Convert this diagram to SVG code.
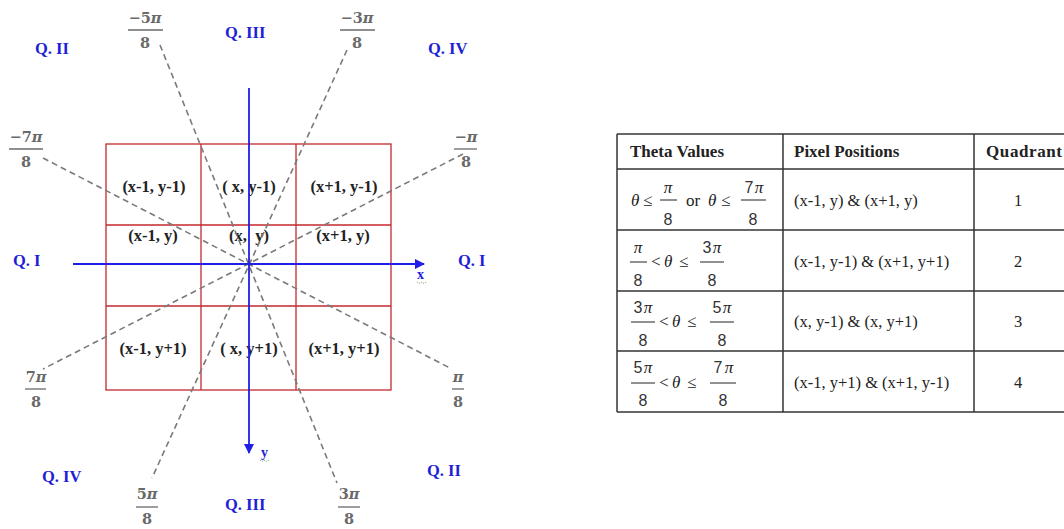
<svg xmlns="http://www.w3.org/2000/svg" width="1064" height="529" viewBox="0 0 1064 529">
<defs>
<style>
.grid{fill:none;stroke:#c3282e;stroke-width:1.3}
.dash{stroke:#7a7a7a;stroke-width:1.6;stroke-dasharray:6 4;fill:none}
.axis{stroke:#1f1fe6;stroke-width:1.8;fill:none}
.q{font-family:"Liberation Serif",serif;font-weight:bold;font-size:16.5px;fill:#1f1fd6}
.cell{font-family:"Liberation Serif",serif;font-weight:bold;font-size:16.5px;fill:#222;text-anchor:middle}
.fr{font-family:"DejaVu Serif",serif;font-weight:bold;font-size:14.5px;fill:#6a6a6a;text-anchor:middle}
.pi{font-style:italic}
.bar{stroke:#6a6a6a;stroke-width:1.3}
.tl{stroke:#333;stroke-width:1.5;fill:none}
.th{font-family:"Liberation Serif",serif;font-weight:bold;font-size:17px;fill:#222}
.td{font-family:"Liberation Serif",serif;font-size:16.5px;fill:#222}
.m{font-family:"Liberation Serif",serif;font-size:17px;fill:#222}
.mi{font-family:"Liberation Serif",serif;font-style:italic;font-size:17px;fill:#222}
.md{font-family:"Liberation Sans",sans-serif;font-size:16px;fill:#333;text-anchor:middle}
.mb{stroke:#222;stroke-width:1}
.lab{font-family:"Liberation Serif",serif;font-weight:bold;font-size:14px;fill:#1f1fd6}
.sq{stroke:#7aa060;stroke-width:0.8;fill:none;stroke-dasharray:1.5 1}
</style>
<marker id="ah" markerWidth="10" markerHeight="10" refX="9" refY="5" orient="auto" markerUnits="userSpaceOnUse">
<path d="M0,0 L10,5 L0,10 Z" fill="#1f1fe6"/>
</marker>
</defs>
<rect width="1064" height="529" fill="#fff"/>

<g id="grid">
<rect class="grid" x="106" y="144" width="285" height="246"/>
<line class="grid" x1="201" y1="144" x2="201" y2="390"/>
<line class="grid" x1="296" y1="144" x2="296" y2="390"/>
<line class="grid" x1="106" y1="225" x2="391" y2="225"/>
<line class="grid" x1="106" y1="306" x2="391" y2="306"/>
</g>

<g id="cells">
<text class="cell" x="154" y="192">(x-1, y-1)</text>
<text class="cell" x="249" y="192">( x, y-1)</text>
<text class="cell" x="344" y="192">(x+1, y-1)</text>
<text class="cell" x="153" y="241">(x-1, y)</text>
<text class="cell" x="249" y="241" xml:space="preserve">(x,  y)</text>
<text class="cell" x="343" y="241">(x+1, y)</text>
<text class="cell" x="153" y="354">(x-1, y+1)</text>
<text class="cell" x="249" y="354">( x, y+1)</text>
<text class="cell" x="344" y="354">(x+1, y+1)</text>
</g>

<g id="connectors">
<line class="dash" x1="160" y1="45" x2="337" y2="483"/>
<line class="dash" x1="347" y1="50" x2="152" y2="478"/>
<line class="dash" x1="43" y1="158" x2="450" y2="368"/>
<line class="dash" x1="463" y1="154" x2="43" y2="369"/>
<line class="axis" x1="73" y1="264" x2="424" y2="264" marker-end="url(#ah)"/>
<line class="axis" x1="249" y1="88" x2="249" y2="453" marker-end="url(#ah)"/>
</g>

<g id="axis-labels">
<text class="lab" x="417" y="279">x</text>
<path class="sq" d="M417,282 l2,1.5 l2,-1.5 l2,1.5 l2,-1.5 l2,1.5"/>
<text class="lab" x="261" y="457">y</text>
<path class="sq" d="M260,460 l2,1.5 l2,-1.5 l2,1.5 l2,-1.5 l2,1.5"/>
</g>

<g id="angles">
<text class="fr" x="145" y="23">−5<tspan class="pi">π</tspan></text><line class="bar" x1="128" y1="30" x2="163" y2="30"/><text class="fr" x="145" y="48">8</text>
<text class="fr" x="357" y="23">−3<tspan class="pi">π</tspan></text><line class="bar" x1="340" y1="30" x2="375" y2="30"/><text class="fr" x="357" y="48">8</text>
<text class="fr" x="26" y="142">−7<tspan class="pi">π</tspan></text><line class="bar" x1="9" y1="149" x2="43" y2="149"/><text class="fr" x="26" y="167">8</text>
<text class="fr" x="466" y="142">−<tspan class="pi">π</tspan></text><line class="bar" x1="454" y1="149" x2="477" y2="149"/><text class="fr" x="466" y="167">8</text>
<text class="fr" x="36" y="382">7<tspan class="pi">π</tspan></text><line class="bar" x1="25" y1="389" x2="46" y2="389"/><text class="fr" x="36" y="407">8</text>
<text class="fr" x="458" y="382"><tspan class="pi">π</tspan></text><line class="bar" x1="452" y1="389" x2="464" y2="389"/><text class="fr" x="458" y="407">8</text>
<text class="fr" x="147" y="499">5<tspan class="pi">π</tspan></text><line class="bar" x1="136" y1="507" x2="158" y2="507"/><text class="fr" x="147" y="524">8</text>
<text class="fr" x="349" y="499">3<tspan class="pi">π</tspan></text><line class="bar" x1="338" y1="507" x2="360" y2="507"/><text class="fr" x="349" y="524">8</text>
</g>

<g id="quadrants">
<text class="q" x="35" y="54">Q. II</text>
<text class="q" x="225" y="38">Q. III</text>
<text class="q" x="428" y="54">Q. IV</text>
<text class="q" x="13" y="266">Q. I</text>
<text class="q" x="458" y="266">Q. I</text>
<text class="q" x="42" y="482">Q. IV</text>
<text class="q" x="427" y="476">Q. II</text>
<text class="q" x="225" y="510">Q. III</text>
</g>

<g id="table">
<line class="tl" x1="617" y1="134" x2="1064" y2="134"/>
<line class="tl" x1="617" y1="169" x2="1064" y2="169"/>
<line class="tl" x1="617" y1="230" x2="1064" y2="230"/>
<line class="tl" x1="617" y1="291" x2="1064" y2="291"/>
<line class="tl" x1="617" y1="351" x2="1064" y2="351"/>
<line class="tl" x1="617" y1="412" x2="1064" y2="412"/>
<line class="tl" x1="617" y1="134" x2="617" y2="412"/>
<line class="tl" x1="783" y1="134" x2="783" y2="412"/>
<line class="tl" x1="974" y1="134" x2="974" y2="412"/>

<text class="th" x="630" y="157">Theta Values</text>
<text class="th" x="794" y="157">Pixel Positions</text>
<text class="th" x="986" y="157" textLength="76">Quadrant</text>

<g id="row1">
<text class="mi" x="631" y="206">θ</text><text class="m" x="643" y="206">≤</text>
<text class="mi" x="668" y="193" text-anchor="middle">π</text><line class="mb" x1="660" y1="200" x2="677" y2="200"/><text class="md" x="668" y="225">8</text>
<text class="m" x="686" y="206">or</text>
<text class="mi" x="708" y="206">θ</text><text class="m" x="721" y="206">≤</text>
<text class="md" x="749" y="193">7</text><text class="mi" x="759" y="193" text-anchor="middle">π</text><line class="mb" x1="741" y1="200" x2="766" y2="200"/><text class="md" x="753" y="225">8</text>
<text class="td" x="794" y="206">(x-1, y) &amp; (x+1, y)</text>
<text class="td" x="1018" y="206" text-anchor="middle">1</text>
</g>

<g id="row2">
<text class="mi" x="638" y="253" text-anchor="middle">π</text><line class="mb" x1="630" y1="262" x2="647" y2="262"/><text class="md" x="638" y="286">8</text>
<text class="m" x="651" y="267">&lt;</text><text class="mi" x="664" y="267">θ</text><text class="m" x="679" y="267">≤</text>
<text class="md" x="707" y="253">3</text><text class="mi" x="717" y="253" text-anchor="middle">π</text><line class="mb" x1="700" y1="262" x2="724" y2="262"/><text class="md" x="712" y="286">8</text>
<text class="td" x="794" y="267">(x-1, y-1) &amp; (x+1, y+1)</text>
<text class="td" x="1018" y="267" text-anchor="middle">2</text>
</g>

<g id="row3">
<text class="md" x="638" y="313">3</text><text class="mi" x="648" y="313" text-anchor="middle">π</text><line class="mb" x1="631" y1="322" x2="655" y2="322"/><text class="md" x="643" y="346">8</text>
<text class="m" x="659" y="327">&lt;</text><text class="mi" x="672" y="327">θ</text><text class="m" x="687" y="327">≤</text>
<text class="md" x="717" y="313">5</text><text class="mi" x="727" y="313" text-anchor="middle">π</text><line class="mb" x1="710" y1="322" x2="734" y2="322"/><text class="md" x="722" y="346">8</text>
<text class="td" x="794" y="327">(x, y-1) &amp; (x, y+1)</text>
<text class="td" x="1018" y="327" text-anchor="middle">3</text>
</g>

<g id="row4">
<text class="md" x="638" y="373">5</text><text class="mi" x="648" y="373" text-anchor="middle">π</text><line class="mb" x1="631" y1="383" x2="655" y2="383"/><text class="md" x="643" y="406">8</text>
<text class="m" x="659" y="388">&lt;</text><text class="mi" x="672" y="388">θ</text><text class="m" x="687" y="388">≤</text>
<text class="md" x="718" y="373">7</text><text class="mi" x="729" y="373" text-anchor="middle">π</text><line class="mb" x1="710" y1="383" x2="736" y2="383"/><text class="md" x="723" y="406">8</text>
<text class="td" x="794" y="388">(x-1, y+1) &amp; (x+1, y-1)</text>
<text class="td" x="1018" y="388" text-anchor="middle">4</text>
</g>
</g>
</svg>
